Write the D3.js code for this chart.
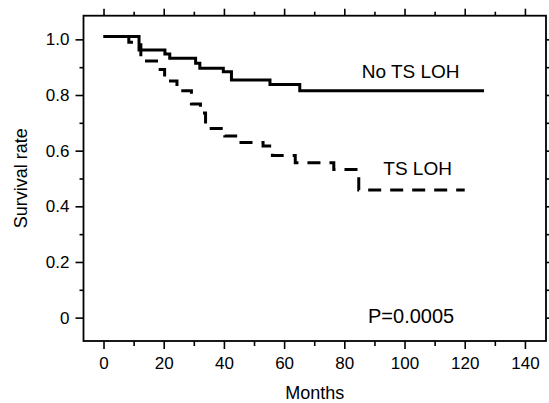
<!DOCTYPE html>
<html>
<head>
<meta charset="utf-8">
<script src="https://cdn.jsdelivr.net/npm/d3@7"></script>
<style>
  body { margin: 0; background: #fff; }
  text { font-family: "Liberation Sans", Arial, Helvetica, sans-serif; fill: #000; }
</style>
</head>
<body>
<script>
// values
const noLohMonths = [0, 11.8, 20.4, 22, 30.6, 32, 39.8, 42.5, 55.3, 65.2, 126.4];
const noLohSurv   = [1.01, 0.962, 0.947, 0.932, 0.914, 0.896, 0.884, 0.854, 0.838, 0.815, 0.815];
const lohMonths = [0, 8.4, 12.4, 18.2, 20.3, 24.4, 29.2, 32.2, 33.9, 40.3, 44.9, 53, 56.1, 63.7, 76.5, 84.8, 120];
const lohSurv   = [1.01, 0.99, 0.922, 0.892, 0.85, 0.815, 0.768, 0.735, 0.68, 0.653, 0.629, 0.617, 0.583, 0.557, 0.532, 0.459, 0.459];
const xMajor = [0, 20, 40, 60, 80, 100, 120, 140];
const xMinor = [10, 30, 50, 70, 90, 110, 130];
const yMajor = [0, 0.2, 0.4, 0.6, 0.8, 1.0];
const yMinor = [0.1, 0.3, 0.5, 0.7, 0.9];
const yLabels = ["0", "0.2", "0.4", "0.6", "0.8", "1.0"];

const width = 549, height = 403;
const m = {left: 83.5, right: 546, top: 15.7, bottom: 341};

const svg = d3.select("body").append("svg").attr("width", width).attr("height", height);

const x = d3.scaleLinear().domain([-6.65, 147]).range([m.left, m.right]);
const y = d3.scaleLinear().domain([-0.084, 1.085]).range([m.bottom, m.top]);

// axes, ticks all outward
function styleAxis(g) {
  g.select(".domain").remove();
  g.selectAll("line").attr("stroke", "#000").attr("stroke-width", 1.6);
  g.selectAll("text").style("font-size", "17px");
}
svg.append("g").attr("transform", `translate(0,${m.bottom})`)
  .call(d3.axisBottom(x).tickValues(xMajor).tickSize(8).tickPadding(8)).call(styleAxis);
svg.append("g").attr("transform", `translate(0,${m.bottom})`)
  .call(d3.axisBottom(x).tickValues(xMinor).tickSize(5).tickFormat("")).call(styleAxis);
svg.append("g").attr("transform", `translate(0,${m.top})`)
  .call(d3.axisTop(x).tickValues(xMajor).tickSize(7).tickFormat("")).call(styleAxis);
svg.append("g").attr("transform", `translate(0,${m.top})`)
  .call(d3.axisTop(x).tickValues(xMinor).tickSize(4).tickFormat("")).call(styleAxis);
svg.append("g").attr("transform", `translate(${m.left},0)`)
  .call(d3.axisLeft(y).tickValues(yMajor).tickSize(8).tickPadding(6).tickFormat((d, i) => yLabels[i])).call(styleAxis);
svg.append("g").attr("transform", `translate(${m.left},0)`)
  .call(d3.axisLeft(y).tickValues(yMinor).tickSize(4).tickFormat("")).call(styleAxis);
svg.append("g").attr("transform", `translate(${m.right},0)`)
  .call(d3.axisRight(y).tickValues(yMajor).tickSize(8).tickFormat("")).call(styleAxis);
svg.append("g").attr("transform", `translate(${m.right},0)`)
  .call(d3.axisRight(y).tickValues(yMinor).tickSize(4).tickFormat("")).call(styleAxis);

// frame
svg.append("rect").attr("x", m.left).attr("y", m.top)
  .attr("width", m.right - m.left).attr("height", m.bottom - m.top)
  .attr("fill", "none").attr("stroke", "#000").attr("stroke-width", 1.8);

// survival curves
const line = d3.line().x(d => x(d[0])).y(d => y(d[1])).curve(d3.curveStepAfter);
svg.append("path").datum(d3.zip(noLohMonths, noLohSurv))
  .attr("d", line).attr("fill", "none").attr("stroke", "#000").attr("stroke-width", 3);
svg.append("path").datum(d3.zip(lohMonths, lohSurv))
  .attr("d", line).attr("fill", "none").attr("stroke", "#000").attr("stroke-width", 3)
  .attr("stroke-dasharray", "13,9");

// labels
svg.append("text").attr("x", 361.7).attr("y", 78.3).style("font-size", "19px").text("No TS LOH");
svg.append("text").attr("x", 383.3).attr("y", 174.5).style("font-size", "19px").text("TS LOH");
svg.append("text").attr("x", 368).attr("y", 323).style("font-size", "20px").text("P=0.0005");

svg.append("text").attr("x", (m.left + m.right) / 2).attr("y", 399)
  .attr("text-anchor", "middle").style("font-size", "18px").text("Months");
svg.append("text").attr("transform", `translate(27,${(m.top + m.bottom) / 2}) rotate(-90)`)
  .attr("text-anchor", "middle").style("font-size", "18px").text("Survival rate");
</script>
</body>
</html>
